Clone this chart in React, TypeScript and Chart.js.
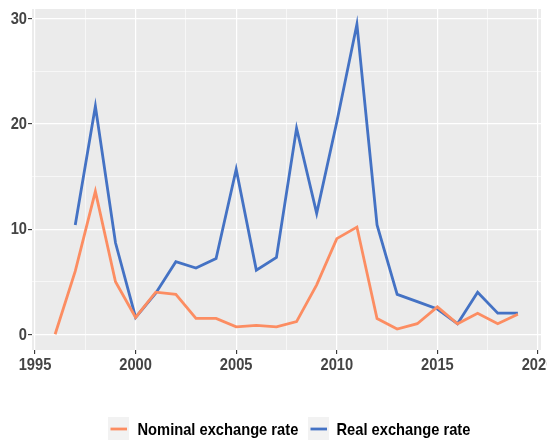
import React, { useEffect, useRef } from "react";
import { Chart, registerables } from "chart.js";

Chart.register(...registerables);

const years = [1996, 1997, 1998, 1999, 2000, 2001, 2002, 2003, 2004, 2005, 2006, 2007, 2008, 2009, 2010, 2011, 2012, 2013, 2014, 2015, 2016, 2017, 2018, 2019];
const nominal = [0, 6.0, 13.6, 5.0, 1.6, 4.0, 3.8, 1.5, 1.5, 0.7, 0.85, 0.7, 1.2, 4.7, 9.1, 10.2, 1.5, 0.5, 1.0, 2.6, 1.0, 2.0, 1.0, 1.9];
const real = [null, 10.4, 21.7, 8.7, 1.6, 3.9, 6.9, 6.3, 7.2, 15.7, 6.1, 7.3, 19.6, 11.5, 20.2, 29.5, 10.4, 3.8, 3.1, 2.4, 1.0, 4.0, 2.0, 2.0];
const xTicks = [1995, 2000, 2005, 2010, 2015, 2020];
const xMinor = [1997.5, 2002.5, 2007.5, 2012.5, 2017.5];
const yTicks = [0, 10, 20, 30];
const yMinor = [5, 15, 25];
const seriesNames = ["Nominal exchange rate", "Real exchange rate"];
const seriesColors = ["#FC8D62", "#4472C4"];

const FONT = "bold 14.7px 'Liberation Sans', Arial, sans-serif";
const VSTRETCH = 1.13;

function drawText(ctx: CanvasRenderingContext2D, text: string, x: number, y: number) {
  ctx.save();
  ctx.translate(x, y);
  ctx.scale(1, VSTRETCH);
  ctx.fillText(text, 0, 0);
  ctx.restore();
}

const ggPlugin = {
  id: "gg",
  beforeDraw(chart: any) {
    const { ctx, chartArea } = chart;
    ctx.save();
    ctx.fillStyle = "#EBEBEB";
    ctx.fillRect(chartArea.left, chartArea.top, chartArea.right - chartArea.left, chartArea.bottom - chartArea.top);
    ctx.restore();
  },
  afterDraw(chart: any) {
    const { ctx, chartArea, scales } = chart;
    ctx.save();
    ctx.font = FONT;
    ctx.fillStyle = "#444444";
    ctx.textAlign = "center";
    ctx.textBaseline = "alphabetic";
    xTicks.forEach((v) => {
      drawText(ctx, String(v), scales.x.getPixelForValue(v), 369.5);
    });
    ctx.textAlign = "right";
    ctx.textBaseline = "alphabetic";
    yTicks.forEach((v) => {
      drawText(ctx, String(v), chartArea.left - 5, scales.y.getPixelForValue(v) + 5.3);
    });
    // legend
    const keyX = [108, 308];
    const textX = [137.5, 336.5];
    seriesNames.forEach((name, i) => {
      ctx.fillStyle = "#F2F2F2";
      ctx.fillRect(keyX[i], 417, 21, 23);
      ctx.strokeStyle = seriesColors[i];
      ctx.lineWidth = 2.8;
      ctx.beginPath();
      ctx.moveTo(keyX[i] + 2.5, 429);
      ctx.lineTo(keyX[i] + 19, 429);
      ctx.stroke();
      ctx.fillStyle = "#000000";
      ctx.textAlign = "left";
      ctx.textBaseline = "alphabetic";
      drawText(ctx, name, textX[i], 434.5);
    });
    ctx.restore();
  },
};

export default function App() {
  const ref = useRef<HTMLCanvasElement>(null);
  useEffect(() => {
    if (!ref.current) return;
    const isMajorX = (v: number) => xTicks.includes(v);
    const isMajorY = (v: number) => yTicks.includes(v);
    const chart = new Chart(ref.current, {
      type: "line",
      data: {
        datasets: [
          {
            label: seriesNames[0],
            data: years.map((y, i) => ({ x: y, y: nominal[i] })),
            borderColor: seriesColors[0],
            borderWidth: 2.8,
            pointRadius: 0,
            tension: 0,
            spanGaps: false,
          },
          {
            label: seriesNames[1],
            data: years.map((y, i) => ({ x: y, y: real[i] as any })),
            borderColor: seriesColors[1],
            borderWidth: 2.8,
            pointRadius: 0,
            tension: 0,
            spanGaps: false,
          },
        ],
      },
      options: {
        animation: false,
        responsive: false,
        maintainAspectRatio: false,
        layout: { padding: { top: 9, right: 6, left: 0, bottom: 0 } },
        plugins: { legend: { display: false }, tooltip: { enabled: false } },
        scales: {
          x: {
            type: "linear",
            min: 1994.85,
            max: 2020.15,
            afterBuildTicks: (s: any) => {
              s.ticks = [...xTicks, ...xMinor].sort((a, b) => a - b).map((v) => ({ value: v }));
            },
            afterFit: (s: any) => {
              s.height = 92;
            },
            ticks: { display: false },
            border: { display: false },
            grid: {
              color: "#FFFFFF",
              lineWidth: (c: any) => (isMajorX(c.tick?.value) ? 1.2 : 0.6),
              tickColor: (c: any) => (isMajorX(c.tick?.value) ? "#333333" : "rgba(0,0,0,0)"),
              tickLength: 4,
              tickWidth: 1.1,
            },
          },
          y: {
            type: "linear",
            min: -1.5,
            max: 30.95,
            afterBuildTicks: (s: any) => {
              s.ticks = [...yTicks, ...yMinor].sort((a, b) => a - b).map((v) => ({ value: v }));
            },
            afterFit: (s: any) => {
              s.width = 32;
            },
            ticks: { display: false },
            border: { display: false },
            grid: {
              color: "#FFFFFF",
              lineWidth: (c: any) => (isMajorY(c.tick?.value) ? 1.2 : 0.6),
              tickColor: (c: any) => (isMajorY(c.tick?.value) ? "#333333" : "rgba(0,0,0,0)"),
              tickLength: 4,
              tickWidth: 1.1,
            },
          },
        },
      },
      plugins: [ggPlugin],
    });
    return () => chart.destroy();
  }, []);
  return (
    <div style={{ position: "fixed", left: 0, top: 0, width: 547, height: 442, background: "#FFFFFF" }}>
      <canvas ref={ref} width={547} height={442} style={{ width: 547, height: 442 }} />
    </div>
  );
}
